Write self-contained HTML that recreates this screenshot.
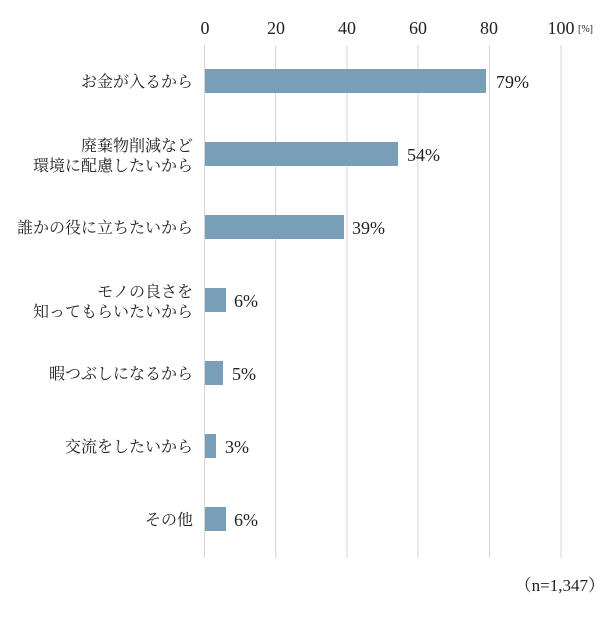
<!DOCTYPE html><html><head><meta charset="utf-8"><style>
body{margin:0;background:#fff}
svg text{font-family:"Liberation Serif","Noto Serif CJK SC",serif;fill:#222}
</style></head><body>
<svg width="600" height="614" xmlns="http://www.w3.org/2000/svg">
<g stroke="#d4d4d4" stroke-width="1">
<line x1="204.5" y1="45" x2="204.5" y2="558"/><line x1="275.7" y1="45" x2="275.7" y2="558"/>
<line x1="347" y1="45" x2="347" y2="558"/><line x1="418" y1="45" x2="418" y2="558"/>
<line x1="489.5" y1="45" x2="489.5" y2="558"/><line x1="561" y1="45" x2="561" y2="558"/>
</g>
<g font-size="18" text-anchor="middle">
<text x="205" y="34">0</text><text x="276" y="34">20</text><text x="347" y="34">40</text>
<text x="418" y="34">60</text><text x="489" y="34">80</text><text x="561" y="34">100</text>
</g>
<text x="578" y="32" font-size="10">[%]</text>
<g fill="#789fb7">
<rect x="205" y="69" width="281" height="24"/>
<rect x="205" y="142" width="193" height="24"/>
<rect x="205" y="215" width="139" height="24"/>
<rect x="205" y="288" width="21" height="24"/>
<rect x="205" y="361" width="18" height="24"/>
<rect x="205" y="434" width="11" height="24"/>
<rect x="205" y="507" width="21" height="24"/>
</g>
<g font-size="18">
<text x="496" y="88">79%</text><text x="407" y="161">54%</text><text x="352" y="234">39%</text>
<text x="234" y="307">6%</text><text x="232" y="380">5%</text><text x="225" y="453">3%</text>
<text x="234" y="526">6%</text>
</g>
<g font-size="16" text-anchor="end">
<text x="193" y="87">お金が入るから</text>
<text x="193" y="151">廃棄物削減など</text><text x="193" y="171">環境に配慮したいから</text>
<text x="193" y="233">誰かの役に立ちたいから</text>
<text x="193" y="297">モノの良さを</text><text x="193" y="317">知ってもらいたいから</text>
<text x="193" y="379">暇つぶしになるから</text>
<text x="193" y="452">交流をしたいから</text>
<text x="193" y="525">その他</text>
</g>
<text x="605" y="591" font-size="17" text-anchor="end">（n=1,347）</text>
</svg></body></html>
